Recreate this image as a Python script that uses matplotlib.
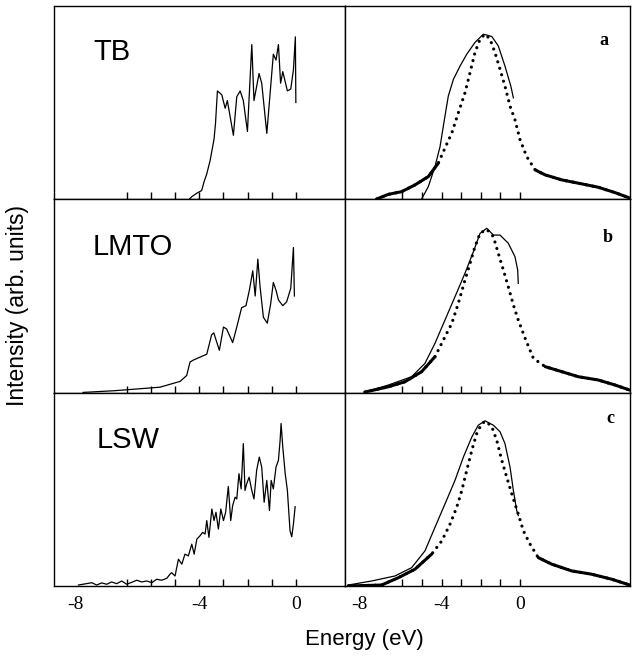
import matplotlib
matplotlib.use('Agg')
import matplotlib.pyplot as plt
import numpy as np

# left column: calculated DOS (energy in eV, intensity in arb. units)
tb_E = [-4.40, -4.31, -4.10, -3.90, -3.80, -3.69, -3.55, -3.39, -3.33, -3.25, -3.07,
        -2.93, -2.84, -2.59, -2.45, -2.31, -2.18, -2.01, -1.83, -1.74, -1.53, -1.42,
        -1.21, -0.94, -0.83, -0.73, -0.64, -0.55, -0.36, -0.22, -0.11, -0.03, -0.01]
tb_I = [0.0, 0.012, 0.03, 0.044, 0.09, 0.13, 0.20, 0.31, 0.39, 0.56, 0.54,
        0.47, 0.51, 0.33, 0.53, 0.56, 0.51, 0.35, 0.80, 0.51, 0.65, 0.60,
        0.34, 0.75, 0.72, 0.80, 0.60, 0.66, 0.56, 0.57, 0.67, 0.84, 0.50]

lmto_E = [-8.80, -7.48, -5.62, -4.79, -4.52, -4.38, -4.24, -3.69, -3.49, -3.40, -3.17,
          -3.00, -2.87, -2.62, -2.45, -2.25, -2.07, -1.93, -1.79, -1.69, -1.58, -1.49,
          -1.35, -1.19, -1.05, -0.94, -0.83, -0.73, -0.55, -0.39, -0.22, -0.11, -0.07]
lmto_I = [0.003, 0.012, 0.03, 0.06, 0.09, 0.16, 0.17, 0.20, 0.30, 0.31, 0.22,
          0.34, 0.33, 0.26, 0.34, 0.44, 0.45, 0.53, 0.63, 0.50, 0.69, 0.55,
          0.39, 0.36, 0.46, 0.57, 0.53, 0.48, 0.45, 0.47, 0.54, 0.75, 0.50]

lsw_E = [-8.99, -8.44, -8.24, -8.03, -7.82, -7.62, -7.41, -7.20, -7.00, -6.79,
         -6.58, -6.38, -6.17, -5.96, -5.76, -5.55, -5.34, -5.21, -5.14, -5.00,
         -4.86, -4.72, -4.59, -4.45, -4.31, -4.21, -4.10, -3.97, -3.86, -3.76,
         -3.69, -3.60, -3.48, -3.39, -3.31, -3.21, -3.11, -3.00, -2.91, -2.80,
         -2.70, -2.62, -2.52, -2.45, -2.36, -2.27, -2.18, -2.11, -2.04, -1.94,
         -1.83, -1.74, -1.63, -1.52, -1.42, -1.32, -1.21, -1.10, -1.03, -0.94,
         -0.83, -0.73, -0.66, -0.62, -0.55, -0.45, -0.36, -0.25, -0.18, -0.11,
         -0.04]
lsw_I = [0.005, 0.017, 0.005, 0.016, 0.009, 0.021, 0.012, 0.026, 0.009, 0.019,
         0.030, 0.021, 0.026, 0.017, 0.035, 0.030, 0.040, 0.061, 0.069, 0.052,
         0.139, 0.113, 0.165, 0.156, 0.217, 0.165, 0.243, 0.260, 0.278, 0.269,
         0.339, 0.252, 0.399, 0.339, 0.382, 0.295, 0.399, 0.339, 0.382, 0.516,
         0.339, 0.417, 0.460, 0.451, 0.582, 0.503, 0.738, 0.495, 0.530, 0.564,
         0.495, 0.451, 0.599, 0.668, 0.616, 0.434, 0.547, 0.391, 0.547, 0.503,
         0.616, 0.651, 0.755, 0.842, 0.720, 0.582, 0.495, 0.286, 0.255, 0.321,
         0.411]

# right column: experiment (dotted) and broadened theory (thin line)
a_exp_E = [-7.31, -6.72, -6.04, -5.36, -4.68, -4.17, -3.83, -3.48, -3.15, -2.81,
           -2.55, -2.30, -2.04, -1.79, -1.53, -1.28, -1.02, -0.77, -0.51, -0.26,
           0.0, 0.34, 0.77, 1.28, 2.13, 2.97, 3.99, 4.85, 5.6]
a_exp_I = [0.0, 0.024, 0.038, 0.073, 0.116, 0.186, 0.264, 0.342, 0.446, 0.55,
           0.655, 0.759, 0.828, 0.854, 0.828, 0.759, 0.672, 0.585, 0.481, 0.411,
           0.307, 0.22, 0.151, 0.125, 0.099, 0.082, 0.061, 0.033, 0.005]
a_th_E = [-5.02, -4.68, -4.34, -4.08, -3.86, -3.66, -3.40, -3.06, -2.72, -2.30,
          -1.87, -1.44, -1.11, -0.77, -0.47, -0.34]
a_th_I = [0.0, 0.064, 0.168, 0.272, 0.411, 0.533, 0.62, 0.689, 0.75, 0.811,
          0.854, 0.842, 0.793, 0.689, 0.585, 0.524]

b_exp_E = [-7.91, -6.72, -5.87, -5.02, -4.34, -3.83, -3.48, -3.15, -2.81, -2.55,
           -2.30, -2.04, -1.70, -1.36, -1.11, -0.85, -0.60, -0.34, -0.09, 0.26,
           0.68, 1.28, 2.13, 2.97, 3.99, 4.85, 5.6]
b_exp_I = [0.005, 0.032, 0.058, 0.11, 0.187, 0.29, 0.359, 0.462, 0.582, 0.668,
           0.754, 0.823, 0.844, 0.806, 0.72, 0.634, 0.548, 0.454, 0.376, 0.282,
           0.179, 0.136, 0.11, 0.084, 0.067, 0.041, 0.015]
b_th_E = [-7.91, -6.72, -5.53, -4.85, -4.34, -3.83, -3.32, -2.81, -2.38, -2.04,
          -1.70, -1.36, -1.02, -0.60, -0.26, -0.12, -0.09]
b_th_I = [0.005, 0.041, 0.084, 0.153, 0.256, 0.376, 0.496, 0.617, 0.728, 0.823,
          0.849, 0.814, 0.814, 0.772, 0.703, 0.634, 0.565]

c_exp_E = [-8.76, -7.06, -6.21, -5.36, -4.51, -3.99, -3.57, -3.23, -2.97, -2.72,
           -2.46, -2.21, -1.95, -1.75, -1.44, -1.19, -0.93, -0.68, -0.42, -0.09,
           0.17, 0.51, 0.93, 1.62, 2.64, 3.66, 4.68, 5.6]
c_exp_I = [0.0, 0.005, 0.043, 0.087, 0.165, 0.234, 0.321, 0.408, 0.495, 0.599,
           0.703, 0.79, 0.842, 0.854, 0.825, 0.755, 0.651, 0.564, 0.477, 0.373,
           0.286, 0.217, 0.147, 0.113, 0.078, 0.061, 0.035, 0.005]
c_th_E = [-8.76, -7.57, -6.38, -5.53, -4.85, -4.34, -3.83, -3.32, -2.89, -2.46,
          -2.13, -1.79, -1.36, -1.02, -0.77, -0.51, -0.34, -0.17, -0.09]
c_th_I = [0.005, 0.026, 0.052, 0.095, 0.182, 0.304, 0.425, 0.547, 0.668, 0.772,
          0.833, 0.856, 0.833, 0.799, 0.738, 0.616, 0.495, 0.391, 0.365]

methods = ['TB', 'LMTO', 'LSW']
letters = ['a', 'b', 'c']
left_data = [(tb_E, tb_I), (lmto_E, lmto_I), (lsw_E, lsw_I)]
right_data = [(a_exp_E, a_exp_I, a_th_E, a_th_I),
              (b_exp_E, b_exp_I, b_th_E, b_th_I),
              (c_exp_E, c_exp_I, c_th_E, c_th_I)]

W, H = 636, 660
fig = plt.figure(figsize=(W / 100, H / 100), dpi=100)

def add_ax(x0, y0, x1, y1):
    return fig.add_axes([x0 / W, 1 - y1 / H, (x1 - x0) / W, (y1 - y0) / H])

def tick_labels(ticks, show):
    return ['%d' % t if (show and t in (-4, 0)) else '' for t in ticks]

rows = [(6, 199), (199, 393), (393, 586)]
name_pos = [(0.134, 0.72), (0.134, 0.711), (0.148, 0.715)]
letter_pos = [(0.909, 0.798), (0.923, 0.778), (0.93, 0.845)]
dot_range = [(-4.1, 0.6), (-4.3, 0.7), (-4.2, 0.65)]
left_ticks = list(range(-7, 1))
right_ticks = list(range(-6, 1))

for i in range(3):
    top, bot = rows[i]
    axl = add_ax(54, top, 345, bot)
    axr = add_ax(345, top, 630, bot)

    E, I = left_data[i]
    axl.plot(E, I, color='black', lw=0.9)
    axl.set_xlim(-10.0, 2.02)

    eE, eI, tE, tI = right_data[i]
    eE = np.array(eE)
    eI = np.array(eI)
    lo, hi = dot_range[i]
    axr.plot(eE, eI, color='black', lw=2.3, linestyle=(0, (0.01, 2.1)),
             dash_capstyle='round')
    tail = np.where((eE <= lo) | (eE >= hi), eI, np.nan)
    axr.plot(eE, tail, color='black', lw=2.2, solid_capstyle='round')
    axr.plot(tE, tI, color='black', lw=0.9)
    axr.set_xlim(-8.93, 5.61)

    last = (i == 2)
    axl.set_xticks(left_ticks, tick_labels(left_ticks, last))
    axr.set_xticks(right_ticks, tick_labels(right_ticks, last))
    if last:
        # the "-8" labels stand left of the tick marks in the original
        axl.set_xticks([-9.1], ['-8'], minor=True)
        axr.set_xticks([-8.2], ['-8'], minor=True)
    else:
        axl.set_xticks([], minor=True)
        axr.set_xticks([], minor=True)

    for ax in (axl, axr):
        ax.set_ylim(0, 1)
        ax.set_yticks([])
        for s in ax.spines.values():
            s.set_linewidth(1.0)
        ax.tick_params(axis='x', which='major', direction='in', length=5, width=1.0,
                       color='black', pad=7, labelsize=14,
                       labelfontfamily='Liberation Serif')
        ax.tick_params(axis='x', which='minor', direction='in', length=0,
                       pad=7, labelsize=14, labelfontfamily='Liberation Serif')

    axl.text(name_pos[i][0], name_pos[i][1], methods[i], transform=axl.transAxes,
             fontsize=21, family='Liberation Sans', va='baseline', ha='left')
    axr.text(letter_pos[i][0], letter_pos[i][1], letters[i], transform=axr.transAxes,
             fontsize=13, family='Liberation Serif', fontweight='bold',
             va='baseline', ha='center')

fig.text(0.028, 1 - 305 / H, 'Intensity (arb. units)', rotation=90,
         ha='center', va='center', fontsize=16.5, family='Liberation Sans')
fig.text(364 / W, 1 - 640 / H, 'Energy (eV)', ha='center', va='center',
         fontsize=16, family='Liberation Sans')

fig.savefig('out.png', dpi=100)
